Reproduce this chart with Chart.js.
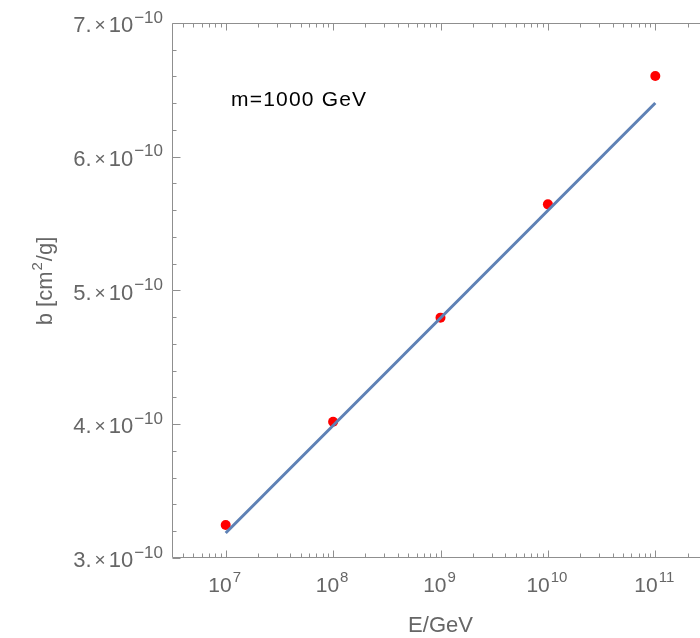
<!DOCTYPE html>
<html>
<head>
<meta charset="utf-8">
<script src="https://cdn.jsdelivr.net/npm/chart.js@4.4.1/dist/chart.umd.min.js"></script>
<style>
  html, body { margin: 0; padding: 0; background: #fff; overflow: hidden; }
  #wrap { width: 720px; height: 638px; }
</style>
</head>
<body>
<div id="wrap"><canvas id="c" width="720" height="638"></canvas></div>
<script>
// Energy grid and computed coefficient b
const energies = [1e7, 1e8, 1e9, 1e10, 1e11];
const bValues = [3.247e-10, 4.019e-10, 4.797e-10, 5.644e-10, 6.604e-10];

// Fitted line (straight in log E), given at its end points
const fitEnergies = [1e7, 1e11];
const fitValues = [3.187e-10, 6.402e-10];

// Tick labels
const xTickExponents = [7, 8, 9, 10, 11];
const yTickMantissas = [3, 4, 5, 6, 7];

const xRange = [Math.pow(10, 6.5), Math.pow(10, 11.5)];
const yRange = [3e-10, 7e-10];

const FONT = '"Liberation Sans", Arial, Helvetica, sans-serif';
const FRAME = '#8f8f8f';
const LABEL = '#666666';

function setSpacing(ctx, v) {
  if ('letterSpacing' in ctx) ctx.letterSpacing = v;
}

// draws a run of [text, font, dx, dy] pieces ending at xRight
function drawRunRight(ctx, pieces, xRight, y) {
  let total = 0;
  const widths = pieces.map(p => { ctx.font = p[1]; const w = ctx.measureText(p[0]).width; total += w + p[2]; return w; });
  let x = xRight - total;
  pieces.forEach((p, i) => {
    x += p[2];
    ctx.font = p[1];
    ctx.fillText(p[0], x, y + p[3]);
    x += widths[i];
  });
}

const framePlugin = {
  id: 'frame',
  beforeDatasetsDraw(chart) {
    const ctx = chart.ctx;
    const { left, right, top, bottom } = chart.chartArea;
    const xs = chart.scales.x, ys = chart.scales.y;
    ctx.save();
    ctx.strokeStyle = FRAME;
    ctx.lineWidth = 1;
    const L = Math.round(left) + 0.5, R = Math.round(right) - 0.5;
    const T = Math.round(top) + 0.5, B = Math.round(bottom) - 0.5;
    ctx.beginPath();
    ctx.rect(L, T, R - L, B - T);
    ctx.stroke();
    ctx.beginPath();
    // log ticks on bottom and top edges
    for (let d = 6; d <= 11; d++) {
      for (let k = 1; k <= 9; k++) {
        const v = k * Math.pow(10, d);
        if (v < xRange[0] || v > xRange[1]) continue;
        const px = Math.round(xs.getPixelForValue(v)) + 0.5;
        const len = k === 1 ? 7 : 4;
        ctx.moveTo(px, B); ctx.lineTo(px, B - len);
        ctx.moveTo(px, T); ctx.lineTo(px, T + len);
      }
    }
    // linear ticks on left and right edges
    for (let i = 0; i <= 20; i++) {
      const v = (3 + i * 0.2) * 1e-10;
      const py = Math.round(ys.getPixelForValue(v)) + 0.5;
      const len = i % 5 === 0 ? 8 : 4;
      ctx.moveTo(L, py); ctx.lineTo(L + len, py);
      ctx.moveTo(R, py); ctx.lineTo(R - len, py);
    }
    ctx.stroke();
    ctx.restore();
  },
  afterDraw(chart) {
    const ctx = chart.ctx;
    const { left, right, top, bottom } = chart.chartArea;
    const xs = chart.scales.x, ys = chart.scales.y;
    ctx.save();
    ctx.fillStyle = LABEL;
    ctx.textAlign = 'left';
    ctx.textBaseline = 'alphabetic';

    // y tick labels: m.×10^-10
    const yMain = '22px ' + FONT, ySup = '17px ' + FONT, yTimes = '19px ' + FONT;
    for (const m of yTickMantissas) {
      const py = ys.getPixelForValue(m * 1e-10);
      drawRunRight(ctx, [
        [m + '.', yMain, 0, 0],
        ['\u00d7', yTimes, 3, -1],
        ['10', yMain, 3, 0],
        ['\u221210', ySup, 1, -9.5]
      ], left - 9, py + 9);
    }

    // x tick labels: 10^n
    const xMain = '21px ' + FONT, xSup = '15px ' + FONT;
    for (const e of xTickExponents) {
      const px = xs.getPixelForValue(Math.pow(10, e));
      const sup = String(e);
      ctx.font = xMain;
      const w1 = ctx.measureText('10').width;
      ctx.font = xSup;
      const w2 = ctx.measureText(sup).width;
      const x0 = px - (w1 + w2 + 1) / 2 - 1;
      ctx.font = xMain;
      ctx.fillText('10', x0, bottom + 34);
      ctx.font = xSup;
      ctx.fillText(sup, x0 + w1 + 1, bottom + 24);
    }

    // axis titles
    const tMain = '22px ' + FONT, tSup = '15px ' + FONT;
    ctx.font = tMain;
    ctx.textAlign = 'center';
    ctx.fillText('E/GeV', (left + right) / 2, bottom + 74);

    ctx.save();
    ctx.translate(52, 281);
    ctx.rotate(-Math.PI / 2);
    ctx.textAlign = 'left';
    const p1 = 'b [cm', p2 = '2', p3 = '/g]';
    ctx.font = tMain;
    const a = ctx.measureText(p1).width, c = ctx.measureText(p3).width;
    ctx.font = tSup;
    const b = ctx.measureText(p2).width;
    const x0 = -(a + b + c + 2) / 2;
    ctx.font = tMain;
    ctx.fillText(p1, x0, 0);
    ctx.font = tSup;
    ctx.fillText(p2, x0 + a + 1, -10);
    ctx.font = tMain;
    ctx.fillText(p3, x0 + a + b + 2, 0);
    ctx.restore();

    // annotation
    ctx.fillStyle = '#000';
    ctx.font = '21px ' + FONT;
    ctx.textAlign = 'left';
    setSpacing(ctx, '1.2px');
    ctx.fillText('m=1000 GeV', left + 59, top + 83);
    ctx.restore();
  }
};

new Chart(document.getElementById('c'), {
  type: 'scatter',
  data: {
    datasets: [
      {
        label: 'fit',
        data: fitEnergies.map((e, i) => ({ x: e, y: fitValues[i] })),
        showLine: true,
        borderColor: '#5e81b5',
        borderWidth: 3,
        pointRadius: 0,
        fill: false
      },
      {
        label: 'b',
        data: energies.map((e, i) => ({ x: e, y: bValues[i] })),
        pointRadius: 5,
        pointBackgroundColor: '#ff0000',
        pointBorderWidth: 0,
        showLine: false
      }
    ]
  },
  options: {
    responsive: false,
    animation: false,
    layout: { padding: { top: 23, right: 11, left: 0, bottom: 0 } },
    plugins: { legend: { display: false }, tooltip: { enabled: false } },
    scales: {
      x: {
        type: 'logarithmic',
        min: xRange[0], max: xRange[1],
        ticks: { display: false },
        grid: { display: false },
        border: { display: false },
        afterFit(s) { s.height = 80; }
      },
      y: {
        type: 'linear',
        min: yRange[0], max: yRange[1],
        ticks: { display: false },
        grid: { display: false },
        border: { display: false },
        afterFit(s) { s.width = 172; }
      }
    }
  },
  plugins: [framePlugin]
});
</script>
</body>
</html>
